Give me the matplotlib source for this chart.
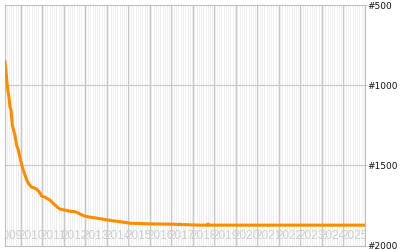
import matplotlib
matplotlib.use('Agg')
import matplotlib.pyplot as plt
import numpy as np

# ==========================================
# 1. data (rank over time)
# ==========================================
years = [2009.27, 2009.32, 2009.36, 2009.41, 2009.46, 2009.50, 2009.55, 2009.61,
         2009.67, 2009.73, 2009.81, 2009.89, 2009.97, 2010.05, 2010.12, 2010.20,
         2010.28, 2010.35, 2010.51, 2010.62, 2010.74, 2010.82, 2010.90, 2010.98,
         2011.13, 2011.25, 2011.36, 2011.48, 2011.60, 2011.72, 2011.83, 2012.06,
         2012.29, 2012.45, 2012.60, 2012.76, 2012.99, 2013.22, 2013.53, 2013.83,
         2014.29, 2014.76, 2015.08, 2016.01, 2017.08, 2017.38, 2017.41, 2017.44,
         2018.34, 2018.68, 2018.71, 2018.74, 2026.0]
ranks = [854, 917, 979, 1042, 1079, 1136, 1154, 1248,
         1280, 1311, 1373, 1404, 1454, 1498, 1529, 1561,
         1590, 1611, 1636, 1640, 1648, 1660, 1673, 1692,
         1698, 1708, 1717, 1733, 1748, 1762, 1773, 1779,
         1786, 1788, 1792, 1804, 1817, 1823, 1829, 1836,
         1846, 1854, 1861, 1865, 1867, 1869, 1866, 1869,
         1873, 1873, 1866, 1873, 1873]

year_labels = [str(y) for y in range(2009, 2026)]
rank_ticks = [500, 1000, 1500, 2000]
rank_labels = ['#500', '#1000', '#1500', '#2000']

x_min, x_max = 2009.27, 2026.0

# ==========================================
# 2. figure
# ==========================================
fig = plt.figure(figsize=(4, 2.5), dpi=100)
ax = fig.add_axes([0.0125, 0.018, 0.9, 0.961])
ax.set_facecolor('#efefef')

# month stripes
months = np.arange(2009 + 3 / 12, x_max, 1 / 12)
ax.vlines(months, 0, 1, transform=ax.get_xaxis_transform(), color='white',
          linewidth=0.6, antialiased=False, zorder=0.5)

# year lines and rank lines
for y in range(2010, 2026):
    ax.axvline(y, color='#c8c8c8', linewidth=0.8, zorder=1)
for r in [1000, 1500]:
    ax.axhline(r, color='#c8c8c8', linewidth=0.8, zorder=1)

# year labels inside plot, centred mid-year, clipped
for lab in year_labels:
    ax.text(int(lab) + 0.5, 0.015, lab, transform=ax.get_xaxis_transform(),
            ha='center', va='bottom', fontsize=8.5, family='Liberation Sans',
            color='#cfcfcf', clip_on=True, zorder=2)

ax.plot(years, ranks, color='#ff8c00', linewidth=2.2, zorder=3)

ax.set_xlim(x_min, x_max)
ax.set_ylim(2000, 500)
ax.set_xticks([])
ax.yaxis.tick_right()
ax.set_yticks(rank_ticks)
ax.set_yticklabels(rank_labels, fontsize=6.5, color='#111111')
ax.tick_params(axis='y', length=1.5, width=0.7, color='#c0c0c0', pad=0.5)

for s in ax.spines.values():
    s.set_color('#c0c0c0')
    s.set_linewidth(0.8)

fig.savefig('out.png', dpi=100)
